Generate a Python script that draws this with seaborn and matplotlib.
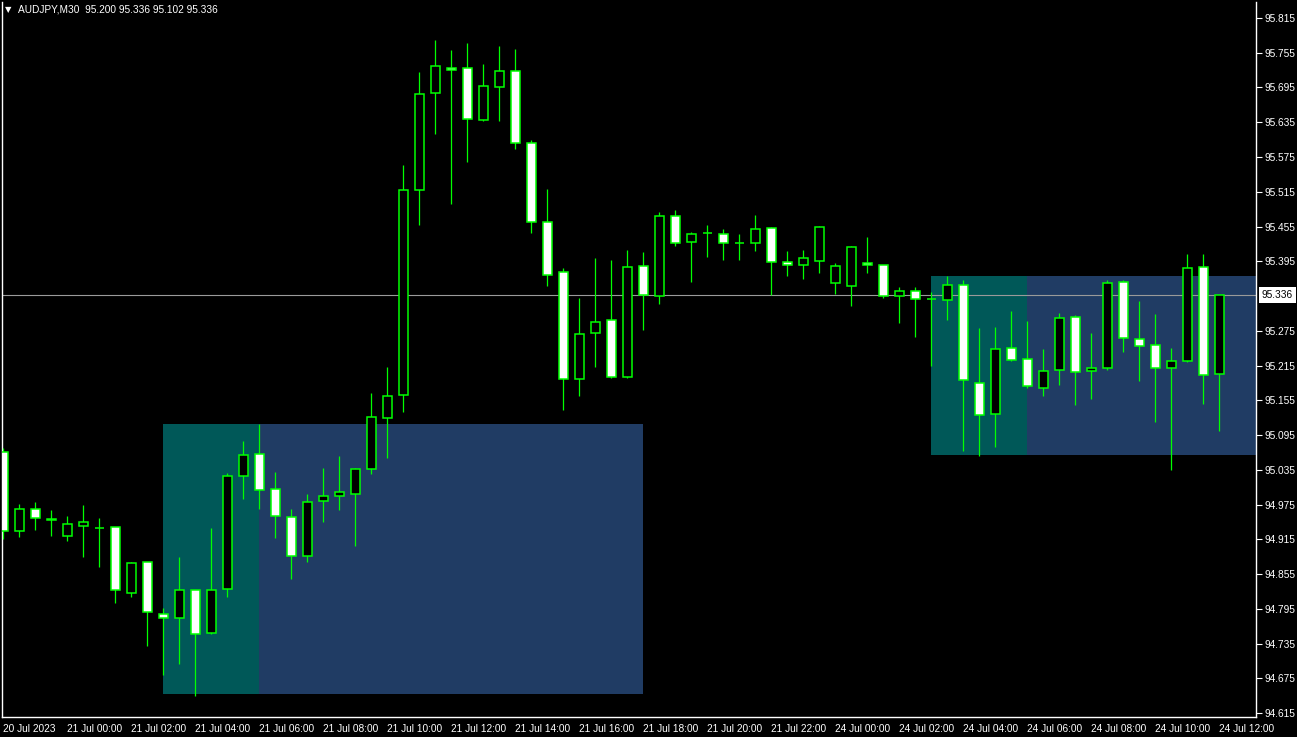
import numpy as np
import pandas as pd
import matplotlib
matplotlib.use('Agg')
import matplotlib.pyplot as plt
import matplotlib.transforms as mtransforms
import seaborn as sns

# AUDJPY M30 candles, 20 Jul 22:00 -> 24 Jul 12:00 (weekend skipped)
symbol = 'AUDJPY,M30'
opens = [95.066, 94.929, 94.967, 94.950, 94.921, 94.938, 94.934, 94.936, 94.823, 94.875,
         94.786, 94.779, 94.827, 94.753, 94.829, 95.024, 95.062, 95.001, 94.953, 94.887,
         94.981, 94.989, 94.994, 95.036, 95.124, 95.164, 95.518, 95.685, 95.729, 95.728,
         95.639, 95.695, 95.723, 95.600, 95.462, 95.376, 95.191, 95.271, 95.293, 95.195,
         95.386, 95.335, 95.474, 95.428, 95.443, 95.442, 95.426, 95.426, 95.452, 95.393,
         95.388, 95.395, 95.357, 95.352, 95.392, 95.388, 95.335, 95.343, 95.329, 95.328,
         95.354, 95.185, 95.131, 95.245, 95.226, 95.177, 95.207, 95.298, 95.205, 95.210,
         95.359, 95.260, 95.250, 95.210, 95.222, 95.385, 95.200]
highs = [95.073, 94.976, 94.979, 94.966, 94.955, 94.974, 94.952, 94.937, 94.876, 94.876,
         94.796, 94.884, 94.828, 94.934, 95.029, 95.085, 95.114, 95.032, 94.968, 94.994,
         95.038, 95.059, 95.038, 95.168, 95.212, 95.561, 95.722, 95.777, 95.760, 95.772,
         95.736, 95.767, 95.761, 95.604, 95.520, 95.383, 95.331, 95.400, 95.397, 95.414,
         95.411, 95.480, 95.484, 95.445, 95.458, 95.451, 95.442, 95.475, 95.454, 95.413,
         95.414, 95.456, 95.392, 95.421, 95.437, 95.389, 95.350, 95.350, 95.342, 95.370,
         95.363, 95.280, 95.282, 95.309, 95.292, 95.244, 95.306, 95.302, 95.271, 95.362,
         95.362, 95.326, 95.304, 95.245, 95.408, 95.408, 95.336]
lows = [94.915, 94.919, 94.931, 94.921, 94.912, 94.884, 94.867, 94.805, 94.816, 94.731,
        94.681, 94.700, 94.645, 94.752, 94.816, 94.985, 94.968, 94.918, 94.847, 94.875,
        94.945, 94.966, 94.904, 95.028, 95.055, 95.134, 95.458, 95.614, 95.493, 95.567,
        95.638, 95.638, 95.589, 95.443, 95.353, 95.139, 95.163, 95.213, 95.194, 95.194,
        95.277, 95.322, 95.422, 95.360, 95.403, 95.398, 95.398, 95.413, 95.336, 95.370,
        95.365, 95.375, 95.339, 95.317, 95.375, 95.332, 95.289, 95.265, 95.215, 95.294,
        95.068, 95.059, 95.074, 95.223, 95.177, 95.162, 95.182, 95.146, 95.158, 95.207,
        95.238, 95.189, 95.118, 95.034, 95.221, 95.148, 95.102]
closes = [94.929, 94.967, 94.951, 94.949, 94.941, 94.944, 94.934, 94.827, 94.874, 94.789,
          94.779, 94.827, 94.751, 94.827, 95.025, 95.060, 95.000, 94.955, 94.886, 94.979,
          94.989, 94.996, 95.037, 95.126, 95.162, 95.518, 95.683, 95.732, 95.726, 95.641,
          95.697, 95.723, 95.600, 95.463, 95.372, 95.191, 95.269, 95.291, 95.195, 95.385,
          95.336, 95.473, 95.426, 95.442, 95.443, 95.426, 95.426, 95.450, 95.393, 95.388,
          95.400, 95.455, 95.386, 95.419, 95.388, 95.335, 95.343, 95.329, 95.329, 95.354,
          95.190, 95.130, 95.243, 95.224, 95.179, 95.205, 95.297, 95.203, 95.210, 95.357,
          95.262, 95.248, 95.210, 95.222, 95.383, 95.198, 95.336]

times = list(pd.date_range('2023-07-20 22:00', '2023-07-21 23:30', freq='30min')) + \
        list(pd.date_range('2023-07-24 00:00', '2023-07-24 12:00', freq='30min'))

# rectangle zones (bar index start/end, price low/high)
zone_start = [10, 16, 58, 64]
zone_end = [16, 40, 64, 80]
zone_low = [94.648, 94.648, 95.061, 95.061]
zone_high = [95.114, 95.114, 95.370, 95.370]
zone_color = ['#005858', '#203c64', '#005858', '#203c64']

bid = closes[-1]

sns.set_style('dark', {'axes.facecolor': 'black', 'figure.facecolor': 'black'})
plt.rcParams['font.family'] = ['Liberation Sans', 'DejaVu Sans']

fig = plt.figure(figsize=(12.97, 7.37), dpi=100)
ax = fig.add_axes([2 / 1297, 20 / 737, 1254 / 1297, 715 / 737])
ax.set_facecolor('black')

for s, e, lo, hi, col in zip(zone_start, zone_end, zone_low, zone_high, zone_color):
    ax.fill_between([s, e], lo, hi, color=col, lw=0, zorder=1)

ax.axhline(bid, color='#9a9a9a', lw=0.8, zorder=2)

x = np.arange(len(opens))
o = np.array(opens)
c = np.array(closes)
ax.vlines(x, lows, highs, color='#00ff00', lw=0.9, zorder=3)
body_col = ['white' if cc < oo else 'black' for oo, cc in zip(o, c)]
ax.bar(x, np.abs(c - o), width=0.58, bottom=np.minimum(o, c), color=body_col,
       edgecolor='#00ff00', linewidth=1.1, zorder=4)

ax.set_xlim(-0.08, 78.29)
ax.set_ylim(94.6082, 95.8426)

# axes / ticks (the scale hides the level under the bid tag)
yt = np.arange(94.615, 95.8151, 0.06)
yt = yt[np.abs(yt - bid) > 0.02]
ax.yaxis.tick_right()
ax.set_yticks(yt)
ax.set_yticklabels(['%.3f' % v for v in yt])

tick_idx = [i for i, t in enumerate(times) if t.minute == 0 and t.hour % 2 == 0]
tick_lab = [times[i].strftime('%d %b %H:%M') for i in tick_idx]
tick_lab[0] = times[0].strftime('%d %b %Y')
ax.set_xticks(tick_idx)
ax.set_xticklabels(tick_lab)
for lab in ax.get_xticklabels():
    lab.set_ha('left')

ax.tick_params(axis='both', colors='white', labelcolor='white', labelsize=7.3,
               length=4, width=0.8, direction='out')
ax.tick_params(axis='y', pad=2)
ax.tick_params(axis='x', pad=1)
ax.grid(False)
for side in ['left', 'right', 'bottom']:
    ax.spines[side].set_color('white')
    ax.spines[side].set_linewidth(1)
    ax.spines[side].set_visible(True)
ax.spines['top'].set_visible(False)

# current bid tag on price scale
trans = mtransforms.blended_transform_factory(ax.transAxes, ax.transData)
ax.text(1.0045, bid, '%.3f' % bid, transform=trans, color='black', fontsize=7.3,
        va='center', ha='left', zorder=6,
        bbox=dict(facecolor='white', edgecolor='none', boxstyle='square,pad=0.3'))

fig.text(5 / 1297, 1 - 10 / 737, '\u25bc', color='white', fontsize=6, va='center',
         family=['DejaVu Sans'])
fig.text(18 / 1297, 1 - 10 / 737,
         '%s  %.3f %.3f %.3f %.3f' % (symbol, opens[-1], highs[-1], lows[-1], closes[-1]),
         color='white', fontsize=7.3, va='center')

fig.savefig('out.png', dpi=100, facecolor='black')
